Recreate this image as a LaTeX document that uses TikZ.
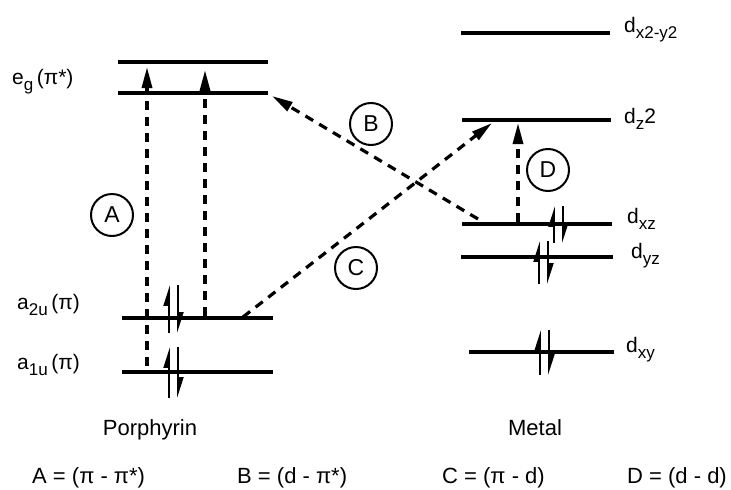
\documentclass[tikz,border=0pt]{standalone}
\usepackage{fontspec}
\setmainfont{Liberation Sans}
\usetikzlibrary{arrows.meta, calc}
\tikzset{
  level/.style={line width=3.4pt},
  trans/.style={line width=3.2pt, dash pattern=on 9pt off 7pt,
                -{Triangle[length=21pt,width=10pt]}},
  spin/.style={line width=1.8pt, -{Triangle[harpoon,length=18pt,width=11pt]}},
  tag/.style={circle, draw, line width=2pt, minimum size=42pt, inner sep=0pt,
              font=\fontsize{23}{25}\selectfont},
  orb/.style={anchor=base west, inner sep=0pt, font=\fontsize{21}{23}\selectfont},
  side/.style={anchor=base, inner sep=0pt, font=\fontsize{22}{24}\selectfont},
  key/.style={anchor=base west, inner sep=0pt, font=\fontsize{22}{24}\selectfont},
}
\newcommand{\lsub}[1]{\raisebox{-0.3em}{\fontsize{17}{17}\selectfont #1}}
% electron pair on a level: x, level y, top, bottom
\newcommand{\epair}[4]{%
  \draw[spin] (#1,#4) -- (#1,#3);
  \draw[spin] ($(#1,#3)+(9,0)$) -- ($(#1,#4)+(9,0)$);}

\begin{document}
\begin{tikzpicture}[x=1pt, y=-1pt]
  \useasboundingbox (0,0) rectangle (731,490);

  % porphyrin levels
  \draw[level] (118,62) coordinate (eg2w) -- (268,62) coordinate (eg2e);
  \draw[level] (118,93) coordinate (eg1w) -- (268,93) coordinate (eg1e);
  \draw[level] (122,318) coordinate (a2w) -- (273,318) coordinate (a2e);
  \draw[level] (122,372) coordinate (a1w) -- (273,372) coordinate (a1e);

  % metal levels
  \draw[level] (461,33) coordinate (dx2w) -- (610,33) coordinate (dx2e);
  \draw[level] (462,120) coordinate (dz2w) -- (611,120) coordinate (dz2e);
  \draw[level] (462,224) coordinate (dxzw) -- (612,224) coordinate (dxze);
  \draw[level] (461,257) coordinate (dyzw) -- (613,257) coordinate (dyze);
  \draw[level] (469,352) coordinate (dxyw) -- (614,352) coordinate (dxye);

  % level names
  \node[orb] (egl) at (12,84) {e\lsub{g}\,(π*)};
  \node[orb] (a2l) at (17,309) {a\lsub{2u}\,(π)};
  \node[orb] (a1l) at (17,369) {a\lsub{1u}\,(π)};
  \node[orb] (dx2l) at (624,32) {d\lsub{x2-y2}};
  \node[orb] (dz2l) at (624,123) {d\lsub{z}2};
  \node[orb] (dxzl) at (627,223) {d\lsub{xz}};
  \node[orb] (dyzl) at (631,258) {d\lsub{yz}};
  \node[orb] (dxyl) at (626,352) {d\lsub{xy}};

  % electrons
  \epair{169}{318}{285}{333}
  \epair{169}{372}{347}{398}
  \epair{554}{224}{206}{243}
  \epair{539}{257}{241}{284}
  \epair{540}{352}{330}{375}

  % transitions
  \coordinate (A0) at (147,366);  \coordinate (A1) at (147,67);
  \coordinate (A2) at (205,316);  \coordinate (A3) at (205,70);
  \coordinate (B0) at (478,219);  \coordinate (B1) at (272,96);
  \coordinate (C0) at (243,317);  \coordinate (C1) at (492,123);
  \coordinate (D0) at (518,222);  \coordinate (D1) at (518,123);
  \draw[trans] (A0) -- (A1);
  \draw[trans] (A2) -- (A3);
  \draw[trans] (B0) -- (B1);
  \draw[trans] (C0) -- (C1);
  \draw[trans] (D0) -- (D1);

  \node[tag] (tA) at (112,215) {A};
  \node[tag] (tB) at (371,124) {B};
  \node[tag] (tC) at (356,268) {C};
  \node[tag] (tD) at (548,170) {D};

  % sides
  \node[side] (por) at (150,435) {Porphyrin};
  \node[side] (met) at (535,435) {Metal};

  % key
  \node[key] (kA) at (32,483) {A = (π - π*)};
  \node[key] (kB) at (237,483) {B = (d - π*)};
  \node[key] (kC) at (442,483) {C = (π - d)};
  \node[key] (kD) at (627,483) {D = (d - d)};
\end{tikzpicture}
\end{document}
